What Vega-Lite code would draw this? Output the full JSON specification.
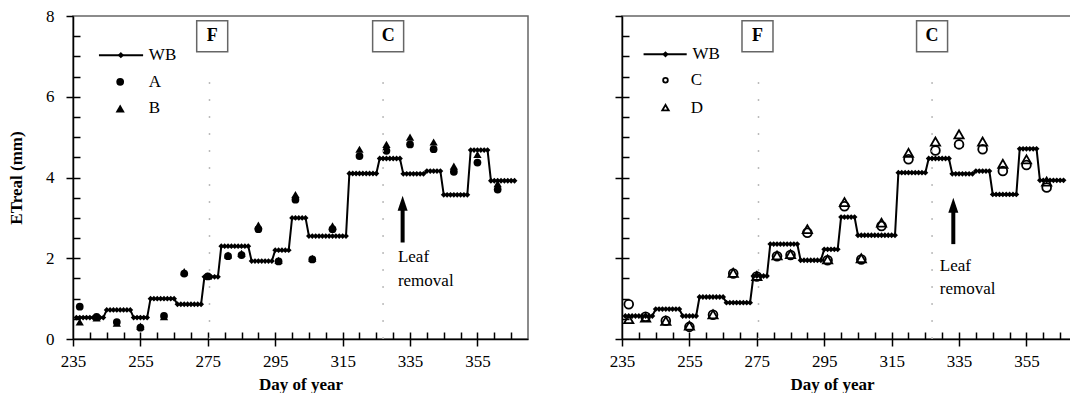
{
"$schema":"https://vega.github.io/schema/vega-lite/v6.json",
"background":"white",
"padding":{"left":6,"top":6,"right":0,"bottom":0},
"spacing":79,
"datasets":{
"wbL":[
{"d":236,"v":0.53},{"d":237,"v":0.53},{"d":238,"v":0.53},{"d":239,"v":0.53},{"d":240,"v":0.53},{"d":241,"v":0.53},{"d":242,"v":0.53},{"d":243,"v":0.53},{"d":244,"v":0.53},
{"d":245,"v":0.72},{"d":246,"v":0.72},{"d":247,"v":0.72},{"d":248,"v":0.72},{"d":249,"v":0.72},{"d":250,"v":0.72},{"d":251,"v":0.72},{"d":252,"v":0.72},
{"d":253,"v":0.53},{"d":254,"v":0.53},{"d":255,"v":0.53},{"d":256,"v":0.53},{"d":257,"v":0.53},
{"d":258,"v":1.0},{"d":259,"v":1.0},{"d":260,"v":1.0},{"d":261,"v":1.0},{"d":262,"v":1.0},{"d":263,"v":1.0},{"d":264,"v":1.0},{"d":265,"v":1.0},
{"d":266,"v":0.86},{"d":267,"v":0.86},{"d":268,"v":0.86},{"d":269,"v":0.86},{"d":270,"v":0.86},{"d":271,"v":0.86},{"d":272,"v":0.86},{"d":273,"v":0.86},
{"d":274,"v":1.54},{"d":275,"v":1.54},{"d":276,"v":1.54},{"d":277,"v":1.54},{"d":278,"v":1.54},
{"d":279,"v":2.3},{"d":280,"v":2.3},{"d":281,"v":2.3},{"d":282,"v":2.3},{"d":283,"v":2.3},{"d":284,"v":2.3},{"d":285,"v":2.3},{"d":286,"v":2.3},{"d":287,"v":2.3},
{"d":288,"v":1.93},{"d":289,"v":1.93},{"d":290,"v":1.93},{"d":291,"v":1.93},{"d":292,"v":1.93},{"d":293,"v":1.93},{"d":294,"v":1.93},
{"d":295,"v":2.2},{"d":296,"v":2.2},{"d":297,"v":2.2},{"d":298,"v":2.2},{"d":299,"v":2.2},
{"d":300,"v":3.0},{"d":301,"v":3.0},{"d":302,"v":3.0},{"d":303,"v":3.0},{"d":304,"v":3.0},
{"d":305,"v":2.55},{"d":306,"v":2.55},{"d":307,"v":2.55},{"d":308,"v":2.55},{"d":309,"v":2.55},{"d":310,"v":2.55},{"d":311,"v":2.55},{"d":312,"v":2.55},{"d":313,"v":2.55},{"d":314,"v":2.55},{"d":315,"v":2.55},{"d":316,"v":2.55},
{"d":317,"v":4.1},{"d":318,"v":4.1},{"d":319,"v":4.1},{"d":320,"v":4.1},{"d":321,"v":4.1},{"d":322,"v":4.1},{"d":323,"v":4.1},{"d":324,"v":4.1},{"d":325,"v":4.1},
{"d":326,"v":4.47},{"d":327,"v":4.47},{"d":328,"v":4.47},{"d":329,"v":4.47},{"d":330,"v":4.47},{"d":331,"v":4.47},{"d":332,"v":4.47},
{"d":333,"v":4.09},{"d":334,"v":4.09},{"d":335,"v":4.09},{"d":336,"v":4.09},{"d":337,"v":4.09},{"d":338,"v":4.09},{"d":339,"v":4.09},
{"d":340,"v":4.16},{"d":341,"v":4.16},{"d":342,"v":4.16},{"d":343,"v":4.16},{"d":344,"v":4.16},
{"d":345,"v":3.57},{"d":346,"v":3.57},{"d":347,"v":3.57},{"d":348,"v":3.57},{"d":349,"v":3.57},{"d":350,"v":3.57},{"d":351,"v":3.57},{"d":352,"v":3.57},
{"d":353,"v":4.68},{"d":354,"v":4.68},{"d":355,"v":4.68},{"d":356,"v":4.68},{"d":357,"v":4.68},{"d":358,"v":4.68},
{"d":359,"v":3.92},{"d":360,"v":3.92},{"d":361,"v":3.92},{"d":362,"v":3.92},{"d":363,"v":3.92},{"d":364,"v":3.92},{"d":365,"v":3.92},{"d":366,"v":3.92}
],
"wbR":[
{"d":236,"v":0.57},{"d":237,"v":0.57},{"d":238,"v":0.57},{"d":239,"v":0.57},{"d":240,"v":0.57},{"d":241,"v":0.57},{"d":242,"v":0.57},{"d":243,"v":0.57},{"d":244,"v":0.57},
{"d":245,"v":0.74},{"d":246,"v":0.74},{"d":247,"v":0.74},{"d":248,"v":0.74},{"d":249,"v":0.74},{"d":250,"v":0.74},{"d":251,"v":0.74},{"d":252,"v":0.74},
{"d":253,"v":0.57},{"d":254,"v":0.57},{"d":255,"v":0.57},{"d":256,"v":0.57},{"d":257,"v":0.57},
{"d":258,"v":1.04},{"d":259,"v":1.04},{"d":260,"v":1.04},{"d":261,"v":1.04},{"d":262,"v":1.04},{"d":263,"v":1.04},{"d":264,"v":1.04},{"d":265,"v":1.04},
{"d":266,"v":0.9},{"d":267,"v":0.9},{"d":268,"v":0.9},{"d":269,"v":0.9},{"d":270,"v":0.9},{"d":271,"v":0.9},{"d":272,"v":0.9},{"d":273,"v":0.9},
{"d":274,"v":1.56},{"d":275,"v":1.56},{"d":276,"v":1.56},{"d":277,"v":1.56},{"d":278,"v":1.56},
{"d":279,"v":2.35},{"d":280,"v":2.35},{"d":281,"v":2.35},{"d":282,"v":2.35},{"d":283,"v":2.35},{"d":284,"v":2.35},{"d":285,"v":2.35},{"d":286,"v":2.35},{"d":287,"v":2.35},
{"d":288,"v":1.95},{"d":289,"v":1.95},{"d":290,"v":1.95},{"d":291,"v":1.95},{"d":292,"v":1.95},{"d":293,"v":1.95},{"d":294,"v":1.95},
{"d":295,"v":2.22},{"d":296,"v":2.22},{"d":297,"v":2.22},{"d":298,"v":2.22},{"d":299,"v":2.22},
{"d":300,"v":3.02},{"d":301,"v":3.02},{"d":302,"v":3.02},{"d":303,"v":3.02},{"d":304,"v":3.02},
{"d":305,"v":2.57},{"d":306,"v":2.57},{"d":307,"v":2.57},{"d":308,"v":2.57},{"d":309,"v":2.57},{"d":310,"v":2.57},{"d":311,"v":2.57},{"d":312,"v":2.57},{"d":313,"v":2.57},{"d":314,"v":2.57},{"d":315,"v":2.57},{"d":316,"v":2.57},
{"d":317,"v":4.12},{"d":318,"v":4.12},{"d":319,"v":4.12},{"d":320,"v":4.12},{"d":321,"v":4.12},{"d":322,"v":4.12},{"d":323,"v":4.12},{"d":324,"v":4.12},{"d":325,"v":4.12},
{"d":326,"v":4.47},{"d":327,"v":4.47},{"d":328,"v":4.47},{"d":329,"v":4.47},{"d":330,"v":4.47},{"d":331,"v":4.47},{"d":332,"v":4.47},
{"d":333,"v":4.09},{"d":334,"v":4.09},{"d":335,"v":4.09},{"d":336,"v":4.09},{"d":337,"v":4.09},{"d":338,"v":4.09},{"d":339,"v":4.09},
{"d":340,"v":4.16},{"d":341,"v":4.16},{"d":342,"v":4.16},{"d":343,"v":4.16},{"d":344,"v":4.16},
{"d":345,"v":3.58},{"d":346,"v":3.58},{"d":347,"v":3.58},{"d":348,"v":3.58},{"d":349,"v":3.58},{"d":350,"v":3.58},{"d":351,"v":3.58},{"d":352,"v":3.58},
{"d":353,"v":4.71},{"d":354,"v":4.71},{"d":355,"v":4.71},{"d":356,"v":4.71},{"d":357,"v":4.71},{"d":358,"v":4.71},
{"d":359,"v":3.93},{"d":360,"v":3.93},{"d":361,"v":3.93},{"d":362,"v":3.93},{"d":363,"v":3.93},{"d":364,"v":3.93},{"d":365,"v":3.93},{"d":366,"v":3.93}
],
"obsL":[
{"d":237,"s":"A","v":0.8},{"d":237,"s":"B","v":0.42},
{"d":242,"s":"A","v":0.55},{"d":242,"s":"B","v":0.52},
{"d":248,"s":"A","v":0.42},{"d":248,"s":"B","v":0.39},
{"d":255,"s":"A","v":0.28},{"d":255,"s":"B","v":0.32},
{"d":262,"s":"A","v":0.57},{"d":262,"s":"B","v":0.55},
{"d":268,"s":"A","v":1.62},{"d":268,"s":"B","v":1.67},
{"d":275,"s":"A","v":1.55},{"d":275,"s":"B","v":1.56},
{"d":281,"s":"A","v":2.05},{"d":281,"s":"B","v":2.08},
{"d":285,"s":"A","v":2.08},{"d":285,"s":"B","v":2.12},
{"d":290,"s":"A","v":2.72},{"d":290,"s":"B","v":2.82},
{"d":296,"s":"A","v":1.92},{"d":296,"s":"B","v":1.95},
{"d":301,"s":"A","v":3.45},{"d":301,"s":"B","v":3.58},
{"d":306,"s":"A","v":1.97},{"d":306,"s":"B","v":2.0},
{"d":312,"s":"A","v":2.72},{"d":312,"s":"B","v":2.8},
{"d":320,"s":"A","v":4.53},{"d":320,"s":"B","v":4.7},
{"d":328,"s":"A","v":4.66},{"d":328,"s":"B","v":4.82},
{"d":335,"s":"A","v":4.82},{"d":335,"s":"B","v":5.0},
{"d":342,"s":"A","v":4.7},{"d":342,"s":"B","v":4.88},
{"d":348,"s":"A","v":4.14},{"d":348,"s":"B","v":4.28},
{"d":355,"s":"A","v":4.37},{"d":355,"s":"B","v":4.57},
{"d":361,"s":"A","v":3.7},{"d":361,"s":"B","v":3.85}
],
"obsR":[
{"d":237,"s":"C","v":0.86},{"d":237,"s":"D","v":0.49},
{"d":242,"s":"C","v":0.55},{"d":242,"s":"D","v":0.53},
{"d":248,"s":"C","v":0.45},{"d":248,"s":"D","v":0.45},
{"d":255,"s":"C","v":0.3},{"d":255,"s":"D","v":0.33},
{"d":262,"s":"C","v":0.6},{"d":262,"s":"D","v":0.61},
{"d":268,"s":"C","v":1.62},{"d":268,"s":"D","v":1.64},
{"d":275,"s":"C","v":1.55},{"d":275,"s":"D","v":1.56},
{"d":281,"s":"C","v":2.05},{"d":281,"s":"D","v":2.07},
{"d":285,"s":"C","v":2.08},{"d":285,"s":"D","v":2.1},
{"d":290,"s":"C","v":2.63},{"d":290,"s":"D","v":2.72},
{"d":296,"s":"C","v":1.95},{"d":296,"s":"D","v":1.97},
{"d":301,"s":"C","v":3.29},{"d":301,"s":"D","v":3.39},
{"d":306,"s":"C","v":1.97},{"d":306,"s":"D","v":2.0},
{"d":312,"s":"C","v":2.8},{"d":312,"s":"D","v":2.88},
{"d":320,"s":"C","v":4.45},{"d":320,"s":"D","v":4.61},
{"d":328,"s":"C","v":4.67},{"d":328,"s":"D","v":4.89},
{"d":335,"s":"C","v":4.82},{"d":335,"s":"D","v":5.07},
{"d":342,"s":"C","v":4.7},{"d":342,"s":"D","v":4.89},
{"d":348,"s":"C","v":4.16},{"d":348,"s":"D","v":4.34},
{"d":355,"s":"C","v":4.31},{"d":355,"s":"D","v":4.45},
{"d":361,"s":"C","v":3.75},{"d":361,"s":"D","v":3.9}
]
},
"hconcat":[
{
"width":455,"height":323,
"resolve":{"axis":{"x":"independent","y":"independent"}},
"layer":[
{"data":{"name":"wbL"},"mark":{"type":"line","color":"black","strokeWidth":2},
 "encoding":{
  "x":{"field":"d","type":"quantitative","scale":{"domain":[235,370],"nice":false,"zero":false},
       "axis":{"orient":"bottom","values":[235,255,275,295,315,335,355],"tickSize":7,"labelPadding":7,"format":"d","title":"Day of year","titlePadding":7,"labelFlush":false,"labelOverlap":false}},
  "y":{"field":"v","type":"quantitative","scale":{"domain":[0,8],"nice":false},
       "axis":{"orient":"left","values":[0,2,4,6,8],"tickSize":7,"labelPadding":12,"format":"d","title":"ETreal (mm)","titlePadding":20}}}},
{"data":{"name":"wbL"},"mark":{"type":"point","shape":"diamond","filled":true,"color":"black","size":34,"opacity":1},
 "encoding":{
  "x":{"field":"d","type":"quantitative","axis":{"orient":"bottom","offset":-7,"values":[240,245,250,255,260,265,270,275,280,285,290,295,300,305,310,315,320,325,330,335,340,345,350,355,360,365],"tickSize":7,"labels":false,"domain":false,"title":null}},
  "y":{"field":"v","type":"quantitative","axis":{"orient":"left","offset":-7,"values":[0.5,1,1.5,2,2.5,3,3.5,4,4.5,5,5.5,6,6.5,7,7.5],"tickSize":7,"labels":false,"domain":false,"title":null}}}},
{"data":{"name":"obsL"},"mark":{"type":"point","filled":true,"color":"black","opacity":1},
 "encoding":{
  "x":{"field":"d","type":"quantitative","axis":null},
  "y":{"field":"v","type":"quantitative","axis":null},
  "shape":{"field":"s","type":"nominal","scale":{"domain":["A","B"],"range":["circle","triangle-up"]},"legend":null},
  "size":{"field":"s","type":"nominal","scale":{"domain":["A","B"],"range":[60,85]},"legend":null}}},
{"data":{"values":[{}]},"mark":{"type":"rule","color":"#bbb","strokeWidth":1.5,"strokeDash":[2,15]},
 "encoding":{"x":{"datum":275.5,"axis":null},"y":{"datum":0,"axis":null},"y2":{"datum":6.7}}},
{"data":{"values":[{}]},"mark":{"type":"rule","color":"#bbb","strokeWidth":1.5,"strokeDash":[2,15]},
 "encoding":{"x":{"datum":327,"axis":null},"y":{"datum":0,"axis":null},"y2":{"datum":6.7}}},
{"data":{"values":[{}]},"mark":{"type":"point","shape":"square","filled":false,"stroke":"#666","strokeWidth":1.5,"size":961,"opacity":1},
 "encoding":{"x":{"datum":276.3,"axis":null},"y":{"datum":7.5,"axis":null}}},
{"data":{"values":[{}]},"mark":{"type":"text","text":"F","fontWeight":"bold","fontSize":18,"baseline":"middle","align":"center"},
 "encoding":{"x":{"datum":276.3,"axis":null},"y":{"datum":7.5,"axis":null}}},
{"data":{"values":[{}]},"mark":{"type":"point","shape":"square","filled":false,"stroke":"#666","strokeWidth":1.5,"size":961,"opacity":1},
 "encoding":{"x":{"datum":328.5,"axis":null},"y":{"datum":7.5,"axis":null}}},
{"data":{"values":[{}]},"mark":{"type":"text","text":"C","fontWeight":"bold","fontSize":18,"baseline":"middle","align":"center"},
 "encoding":{"x":{"datum":328.5,"axis":null},"y":{"datum":7.5,"axis":null}}},
{"data":{"values":[{}]},"mark":{"type":"rule","color":"black","strokeWidth":4},
 "encoding":{"x":{"datum":332.8,"axis":null},"y":{"datum":2.39,"axis":null},"y2":{"datum":3.25}}},
{"data":{"values":[{}]},"mark":{"type":"point","shape":"M0,-1L0.667,1L-0.667,1Z","filled":true,"color":"black","size":225,"opacity":1},
 "encoding":{"x":{"datum":332.8,"axis":null},"y":{"datum":3.36,"axis":null}}},
{"data":{"values":[{}]},"mark":{"type":"text","text":"Leaf","align":"left","baseline":"middle"},
 "encoding":{"x":{"datum":331.4,"axis":null},"y":{"datum":2.03,"axis":null}}},
{"data":{"values":[{}]},"mark":{"type":"text","text":"removal","align":"left","baseline":"middle"},
 "encoding":{"x":{"datum":331.4,"axis":null},"y":{"datum":1.44,"axis":null}}},
{"data":{"values":[{}]},"mark":{"type":"rule","color":"black","strokeWidth":2},
 "encoding":{"x":{"datum":242.7,"axis":null},"x2":{"datum":255.8},"y":{"datum":7.03,"axis":null}}},
{"data":{"values":[{}]},"mark":{"type":"point","shape":"diamond","filled":true,"color":"black","size":40,"opacity":1},
 "encoding":{"x":{"datum":249.2,"axis":null},"y":{"datum":7.03,"axis":null}}},
{"data":{"values":[{}]},"mark":{"type":"point","shape":"circle","filled":true,"color":"black","size":60,"opacity":1},
 "encoding":{"x":{"datum":249,"axis":null},"y":{"datum":6.37,"axis":null}}},
{"data":{"values":[{}]},"mark":{"type":"point","shape":"triangle-up","filled":true,"color":"black","size":85,"opacity":1},
 "encoding":{"x":{"datum":249,"axis":null},"y":{"datum":5.71,"axis":null}}},
{"data":{"values":[{}]},"mark":{"type":"text","text":"WB","align":"left","baseline":"middle"},
 "encoding":{"x":{"datum":257.5,"axis":null},"y":{"datum":7.03,"axis":null}}},
{"data":{"values":[{}]},"mark":{"type":"text","text":"A","align":"left","baseline":"middle"},
 "encoding":{"x":{"datum":257.5,"axis":null},"y":{"datum":6.37,"axis":null}}},
{"data":{"values":[{}]},"mark":{"type":"text","text":"B","align":"left","baseline":"middle"},
 "encoding":{"x":{"datum":257.5,"axis":null},"y":{"datum":5.71,"axis":null}}}
]
},
{
"width":455,"height":323,
"resolve":{"axis":{"x":"independent","y":"independent"}},
"layer":[
{"data":{"name":"wbR"},"mark":{"type":"line","color":"black","strokeWidth":2},
 "encoding":{
  "x":{"field":"d","type":"quantitative","scale":{"domain":[235,370],"nice":false,"zero":false},
       "axis":{"orient":"bottom","values":[235,255,275,295,315,335,355],"tickSize":7,"labelPadding":7,"format":"d","title":"Day of year","titlePadding":7,"titleX":210,"labelFlush":false,"labelOverlap":false}},
  "y":{"field":"v","type":"quantitative","scale":{"domain":[0,8],"nice":false},
       "axis":{"orient":"left","values":[0,2,4,6,8],"tickSize":7,"labels":false,"title":null}}}},
{"data":{"name":"wbR"},"mark":{"type":"point","shape":"diamond","filled":true,"color":"black","size":34,"opacity":1},
 "encoding":{
  "x":{"field":"d","type":"quantitative","axis":{"orient":"bottom","offset":-7,"values":[240,245,250,255,260,265,270,275,280,285,290,295,300,305,310,315,320,325,330,335,340,345,350,355,360,365],"tickSize":7,"labels":false,"domain":false,"title":null}},
  "y":{"field":"v","type":"quantitative","axis":{"orient":"left","offset":-7,"values":[0.5,1,1.5,2,2.5,3,3.5,4,4.5,5,5.5,6,6.5,7,7.5],"tickSize":7,"labels":false,"domain":false,"title":null}}}},
{"data":{"name":"obsR"},"mark":{"type":"point","filled":false,"color":"black","strokeWidth":1.8,"opacity":1},
 "encoding":{
  "x":{"field":"d","type":"quantitative","axis":null},
  "y":{"field":"v","type":"quantitative","axis":null},
  "shape":{"field":"s","type":"nominal","scale":{"domain":["C","D"],"range":["circle","triangle-up"]},"legend":null},
  "size":{"field":"s","type":"nominal","scale":{"domain":["C","D"],"range":[22,42]},"legend":null}}},
{"data":{"values":[{}]},"mark":{"type":"rule","color":"#bbb","strokeWidth":1.5,"strokeDash":[2,15]},
 "encoding":{"x":{"datum":275.5,"axis":null},"y":{"datum":0,"axis":null},"y2":{"datum":6.7}}},
{"data":{"values":[{}]},"mark":{"type":"rule","color":"#bbb","strokeWidth":1.5,"strokeDash":[2,15]},
 "encoding":{"x":{"datum":327,"axis":null},"y":{"datum":0,"axis":null},"y2":{"datum":6.7}}},
{"data":{"values":[{}]},"mark":{"type":"point","shape":"square","filled":false,"stroke":"#666","strokeWidth":1.5,"size":961,"opacity":1},
 "encoding":{"x":{"datum":275.2,"axis":null},"y":{"datum":7.5,"axis":null}}},
{"data":{"values":[{}]},"mark":{"type":"text","text":"F","fontWeight":"bold","fontSize":18,"baseline":"middle","align":"center"},
 "encoding":{"x":{"datum":275.2,"axis":null},"y":{"datum":7.5,"axis":null}}},
{"data":{"values":[{}]},"mark":{"type":"point","shape":"square","filled":false,"stroke":"#666","strokeWidth":1.5,"size":961,"opacity":1},
 "encoding":{"x":{"datum":327,"axis":null},"y":{"datum":7.5,"axis":null}}},
{"data":{"values":[{}]},"mark":{"type":"text","text":"C","fontWeight":"bold","fontSize":18,"baseline":"middle","align":"center"},
 "encoding":{"x":{"datum":327,"axis":null},"y":{"datum":7.5,"axis":null}}},
{"data":{"values":[{}]},"mark":{"type":"rule","color":"black","strokeWidth":4},
 "encoding":{"x":{"datum":333.3,"axis":null},"y":{"datum":2.35,"axis":null},"y2":{"datum":3.2}}},
{"data":{"values":[{}]},"mark":{"type":"point","shape":"M0,-1L0.667,1L-0.667,1Z","filled":true,"color":"black","size":225,"opacity":1},
 "encoding":{"x":{"datum":333.3,"axis":null},"y":{"datum":3.31,"axis":null}}},
{"data":{"values":[{}]},"mark":{"type":"text","text":"Leaf","align":"left","baseline":"middle"},
 "encoding":{"x":{"datum":329.3,"axis":null},"y":{"datum":1.81,"axis":null}}},
{"data":{"values":[{}]},"mark":{"type":"text","text":"removal","align":"left","baseline":"middle"},
 "encoding":{"x":{"datum":329.3,"axis":null},"y":{"datum":1.24,"axis":null}}},
{"data":{"values":[{}]},"mark":{"type":"rule","color":"black","strokeWidth":2},
 "encoding":{"x":{"datum":241.4,"axis":null},"x2":{"datum":254.2},"y":{"datum":7.05,"axis":null}}},
{"data":{"values":[{}]},"mark":{"type":"point","shape":"diamond","filled":true,"color":"black","size":40,"opacity":1},
 "encoding":{"x":{"datum":247.9,"axis":null},"y":{"datum":7.05,"axis":null}}},
{"data":{"values":[{}]},"mark":{"type":"point","shape":"circle","filled":false,"color":"black","strokeWidth":1.8,"size":22,"opacity":1},
 "encoding":{"x":{"datum":247.9,"axis":null},"y":{"datum":6.41,"axis":null}}},
{"data":{"values":[{}]},"mark":{"type":"point","shape":"triangle-up","filled":false,"color":"black","strokeWidth":1.8,"size":42,"opacity":1},
 "encoding":{"x":{"datum":247.9,"axis":null},"y":{"datum":5.73,"axis":null}}},
{"data":{"values":[{}]},"mark":{"type":"text","text":"WB","align":"left","baseline":"middle"},
 "encoding":{"x":{"datum":255.9,"axis":null},"y":{"datum":7.05,"axis":null}}},
{"data":{"values":[{}]},"mark":{"type":"text","text":"C","align":"left","baseline":"middle"},
 "encoding":{"x":{"datum":255.4,"axis":null},"y":{"datum":6.41,"axis":null}}},
{"data":{"values":[{}]},"mark":{"type":"text","text":"D","align":"left","baseline":"middle"},
 "encoding":{"x":{"datum":255.4,"axis":null},"y":{"datum":5.73,"axis":null}}}
]
}
],
"config":{
 "view":{"stroke":"#666","strokeWidth":1.5},
 "axis":{"grid":false,"domainColor":"black","domainWidth":1.5,"tickColor":"black","tickWidth":1.5,
  "labelFont":"Liberation Serif","labelFontSize":17,"labelColor":"black",
  "titleFont":"Liberation Serif","titleFontSize":17,"titleFontWeight":"bold","titleColor":"black"},
 "text":{"font":"Liberation Serif","fontSize":17,"color":"black"}
}
}
